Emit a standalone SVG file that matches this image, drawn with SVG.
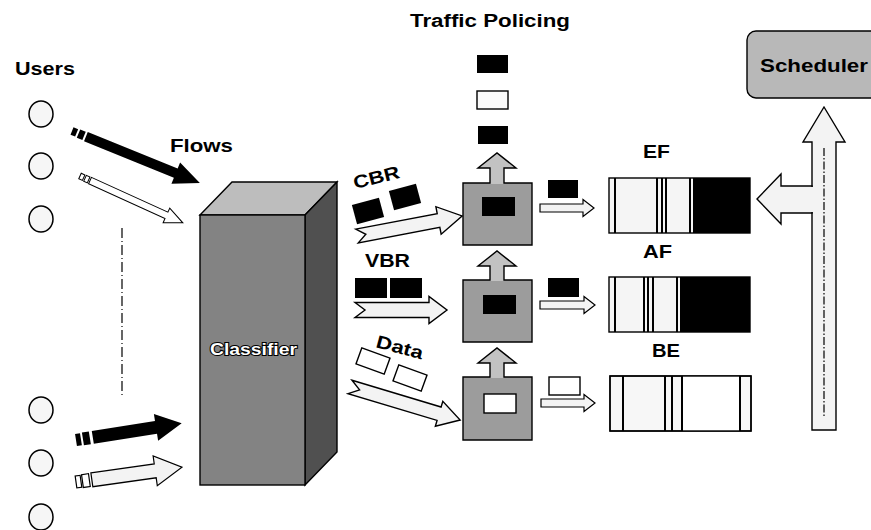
<svg xmlns="http://www.w3.org/2000/svg" width="871" height="530" viewBox="0 0 871 530">
  <style>
    .lbl { font-family: "Liberation Sans", Arial, sans-serif; font-weight: bold; fill: #000; }
    .ol { stroke: #000; stroke-width: 1.4; stroke-linejoin: miter; }
    .edge { fill: none; stroke: #000; stroke-width: 1.4; stroke-linejoin: miter; }
    .pale { fill: #f3f3f3; }
    .blk { fill: #000; }
    .grey { fill: #9c9c9c; }
    .lift { fill: #c2c2c2; }
    .user { fill: #f6f6f6; stroke: #000; stroke-width: 1.5; }
    .qline { stroke: #000; stroke-width: 2; }
  </style>

  <rect x="0" y="0" width="871" height="530" fill="#fff"/>

  <!-- labels -->
  <text class="lbl" x="410" y="27" font-size="18" textLength="160" lengthAdjust="spacingAndGlyphs">Traffic Policing</text>
  <text class="lbl" x="15" y="75" font-size="18" textLength="60" lengthAdjust="spacingAndGlyphs">Users</text>
  <text class="lbl" x="170" y="152" font-size="18" textLength="63" lengthAdjust="spacingAndGlyphs">Flows</text>

  <!-- users -->
  <g id="users">
    <ellipse class="user" cx="41" cy="114" rx="12" ry="13" fill="#ececec"/>
    <ellipse class="user" cx="41" cy="166" rx="12" ry="13"/>
    <ellipse class="user" cx="41" cy="219" rx="12" ry="13"/>
    <ellipse class="user" cx="41" cy="410" rx="12" ry="13"/>
    <ellipse class="user" cx="41" cy="463" rx="12" ry="13"/>
    <ellipse class="user" cx="41" cy="517" rx="12" ry="13"/>
    <line x1="122" y1="228" x2="122" y2="395" stroke="#000" stroke-width="1.2" stroke-dasharray="10 3 1 3"/>
  </g>

  <!-- classifier block -->
  <g id="classifier">
    <polygon points="200,215 232,182 337,182 305,215" fill="#bdbdbd" class="ol"/>
    <polygon points="305,215 337,182 337,452 305,485" fill="#505050" class="ol"/>
    <rect x="200" y="215" width="105" height="270" fill="#838383" class="ol"/>
    <text x="210" y="355" font-family="Liberation Sans, Arial, sans-serif" font-weight="bold" font-size="17" fill="#fff" stroke="#000" stroke-width="2" paint-order="stroke" textLength="87" lengthAdjust="spacingAndGlyphs">Classifier</text>
  </g>

  <!-- user flows into the classifier -->
  <g id="flows">
    <g transform="translate(72,131) rotate(22.1)">
      <rect x="0" y="-4" width="5" height="8" class="blk"/>
      <rect x="7" y="-4.5" width="6" height="9" class="blk"/>
      <polygon points="15,-5 112,-5 112,-11.5 138,0 112,11.5 112,5 15,5" class="blk"/>
    </g>
    <g transform="translate(80,176) rotate(24.5)">
      <rect x="0" y="-3" width="4" height="6" fill="#fff" stroke="#000" stroke-width="1"/>
      <rect x="5.5" y="-3.2" width="4" height="6.4" fill="#fff" stroke="#000" stroke-width="1"/>
      <polygon points="11,-3.5 95,-3.5 95,-8 113,0 95,8 95,3.5 11,3.5" fill="#fff" stroke="#000" stroke-width="1"/>
    </g>
    <g transform="translate(76,440) rotate(-9)">
      <rect x="0" y="-6" width="5" height="12" class="blk"/>
      <rect x="7" y="-6.5" width="7" height="13" class="blk"/>
      <polygon points="17,-6.5 81,-6.5 81,-13.5 107,0 81,13.5 81,6.5 17,6.5" class="blk"/>
    </g>
    <g transform="translate(76,482) rotate(-8)">
      <rect x="0" y="-6" width="5" height="12" fill="#fff" stroke="#000" stroke-width="1.2"/>
      <rect x="6.5" y="-6.5" width="7" height="13" fill="#fff" stroke="#000" stroke-width="1.2"/>
      <polygon points="16,-7 80,-7 80,-15 107,0 80,15 80,7 16,7" class="pale" stroke="#000" stroke-width="1.2"/>
    </g>
  </g>

  <!-- classified traffic streams -->
  <g id="streams">
    <text class="lbl" font-size="18" transform="translate(355,189) rotate(-14)" textLength="47" lengthAdjust="spacingAndGlyphs">CBR</text>
    <rect x="-14" y="-10" width="28" height="20" class="blk" transform="translate(368,211) rotate(-15)"/>
    <rect x="-14" y="-10" width="28" height="20" class="blk" transform="translate(405,197) rotate(-15)"/>
    <polygon points="0,-7 83,-7 83,-14 107,0 83,14 83,7 0,7 9,0" class="pale ol" transform="translate(357,236) rotate(-10.8)"/>

    <text class="lbl" x="365" y="267" font-size="18" textLength="45" lengthAdjust="spacingAndGlyphs">VBR</text>
    <rect x="355" y="278" width="32" height="20" class="blk"/>
    <rect x="390" y="278" width="32" height="20" class="blk"/>
    <polygon points="0,-7.5 74,-7.5 74,-13.5 92,0 74,13.5 74,7.5 0,7.5 10,0" class="pale ol" transform="translate(355,310)"/>

    <text class="lbl" font-size="18" transform="translate(375,347) rotate(15)" textLength="48" lengthAdjust="spacingAndGlyphs">Data</text>
    <rect x="-15" y="-8.5" width="30" height="17" fill="#fff" class="ol" transform="translate(373,361) rotate(20)"/>
    <rect x="-15" y="-8.5" width="30" height="17" fill="#fff" class="ol" transform="translate(410,378) rotate(20)"/>
    <polygon points="0,-7 93,-7 93,-13 115,0 93,13 93,7 0,7 10,0" class="pale ol" transform="translate(350,387) rotate(16.7)"/>
  </g>

  <!-- policers: grey box with a lighter discard arrow on top -->
  <g id="policer-cbr">
    <rect x="463" y="183" width="69" height="62" class="grey"/>
    <polygon points="490,184 490,168 478,168 497,153 516,168 504,168 504,184" class="lift"/>
    <path d="M463,183 H490 V168 H478 L497,153 L516,168 H504 V183 H532 V245 H463 Z" class="edge"/>
    <rect x="482" y="197" width="33" height="19" class="blk"/>
  </g>
  <g id="policer-vbr">
    <rect x="463" y="280" width="69" height="62" class="grey"/>
    <polygon points="490,281 490,266 478,266 497,251 516,266 504,266 504,281" class="lift"/>
    <path d="M463,280 H490 V266 H478 L497,251 L516,266 H504 V280 H532 V342 H463 Z" class="edge"/>
    <rect x="483" y="295" width="33" height="19" class="blk"/>
  </g>
  <g id="policer-data">
    <rect x="463" y="377" width="69" height="63" class="grey"/>
    <polygon points="490,378 490,363 478,363 497,348 516,363 504,363 504,378" class="lift"/>
    <path d="M463,377 H490 V363 H478 L497,348 L516,363 H504 V377 H532 V440 H463 Z" class="edge"/>
    <rect x="484" y="394" width="32" height="19" fill="#fff" class="ol"/>
  </g>

  <!-- dropped packets -->
  <g id="dropped">
    <rect x="477" y="55" width="31" height="18" class="blk"/>
    <rect x="477" y="91" width="31" height="18" fill="#fafafa" class="ol"/>
    <rect x="478" y="126" width="30" height="18" class="blk"/>
  </g>

  <!-- conforming packets to the queues -->
  <g id="conforming">
    <rect x="548" y="180" width="30" height="18" class="blk"/>
    <polygon points="540,204 583,204 583,199.5 594,208 583,216.5 583,212 540,212" class="pale" stroke="#000" stroke-width="1.2"/>
    <rect x="548" y="278" width="31" height="19" class="blk"/>
    <polygon points="540,301 584,301 584,296.5 595,305 584,313.5 584,309 540,309" class="pale" stroke="#000" stroke-width="1.2"/>
    <rect x="549" y="377" width="31" height="18" fill="#fff" class="ol"/>
    <polygon points="541,399 584,399 584,394.5 595,403 584,411.5 584,407 541,407" class="pale" stroke="#000" stroke-width="1.2"/>
  </g>

  <!-- queues -->
  <g id="queue-ef">
    <text class="lbl" x="643" y="158" font-size="18" textLength="27" lengthAdjust="spacingAndGlyphs">EF</text>
    <rect x="609" y="178" width="141" height="55" fill="#f5f5f5" class="ol"/>
    <rect x="693" y="178" width="57" height="55" class="blk"/>
    <line class="qline" x1="615" y1="178" x2="615" y2="233"/>
    <line class="qline" x1="657" y1="178" x2="657" y2="233"/>
    <line class="qline" x1="662" y1="178" x2="662" y2="233"/>
    <line class="qline" x1="666" y1="178" x2="666" y2="233"/>
    <line class="qline" x1="690" y1="178" x2="690" y2="233"/>
  </g>
  <g id="queue-af">
    <text class="lbl" x="643" y="258" font-size="18" textLength="29" lengthAdjust="spacingAndGlyphs">AF</text>
    <rect x="609" y="277" width="141" height="55" fill="#f5f5f5" class="ol"/>
    <rect x="680" y="277" width="70" height="55" class="blk"/>
    <line class="qline" x1="615" y1="277" x2="615" y2="332"/>
    <line class="qline" x1="644" y1="277" x2="644" y2="332"/>
    <line class="qline" x1="648" y1="277" x2="648" y2="332"/>
    <line class="qline" x1="653" y1="277" x2="653" y2="332"/>
    <line class="qline" x1="677" y1="277" x2="677" y2="332"/>
  </g>
  <g id="queue-be">
    <text class="lbl" x="652" y="357" font-size="18" textLength="28" lengthAdjust="spacingAndGlyphs">BE</text>
    <rect x="610" y="376" width="141" height="55" fill="#f7f7f7" class="ol"/>
    <rect x="682" y="376" width="58" height="55" fill="#fff"/>
    <line class="qline" x1="623" y1="376" x2="623" y2="431"/>
    <line class="qline" x1="665" y1="376" x2="665" y2="431"/>
    <line class="qline" x1="672" y1="376" x2="672" y2="431"/>
    <line class="qline" x1="682" y1="376" x2="682" y2="431"/>
    <line class="qline" x1="740" y1="376" x2="740" y2="431"/>
    <rect x="610" y="376" width="141" height="55" fill="none" class="ol"/>
  </g>

  <!-- scheduler -->
  <g id="scheduler">
    <rect x="747" y="31" width="140" height="67" rx="9" fill="#b8b8b8" class="ol"/>
    <text class="lbl" x="760" y="72" font-size="19" textLength="108" lengthAdjust="spacingAndGlyphs">Scheduler</text>
  </g>

  <!-- service path from the scheduler -->
  <g id="service">
    <polygon points="812,430 812,142 803,142 824,107 845,142 836,142 836,430" class="pale ol"/>
    <line x1="824" y1="148" x2="824" y2="418" stroke="#000" stroke-width="1.2" stroke-dasharray="8 2 1.5 2"/>
    <polygon points="812,186 781,186 781,174 757,199 781,224 781,213 812,213" class="pale ol"/>
    <line x1="812" y1="187" x2="812" y2="212" stroke="#f3f3f3" stroke-width="2"/>
  </g>
</svg>
